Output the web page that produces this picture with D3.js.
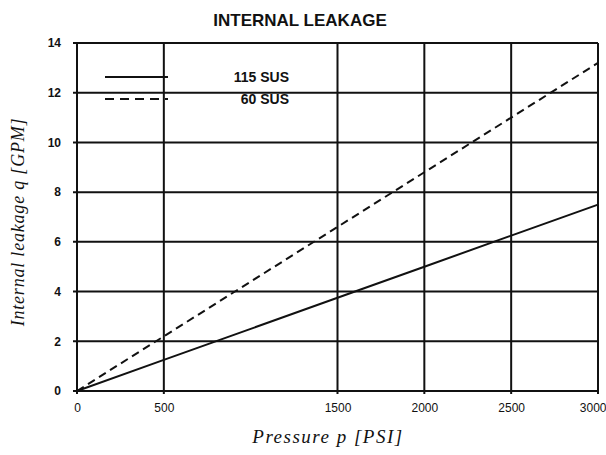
<!DOCTYPE html>
<html><head><meta charset="utf-8">
<script src="https://cdn.jsdelivr.net/npm/d3@7/dist/d3.min.js"></script>
<style>body{margin:0;background:#fff}svg{display:block}</style>
</head><body>
<svg id="c" width="606" height="455"></svg>
<script>
// ---- data ----
const pressure = [0, 500, 1000, 1500, 2000, 2500, 3000];
const leak115 = [0, 1.25, 2.5, 3.75, 5.0, 6.25, 7.5];
const leak60  = [0, 2.2, 4.4, 6.6, 8.8, 11.0, 13.2];
const xTicks = [0, 500, 1500, 2000, 2500, 3000];
const xTickLabels = ["0", "500", "1500", "2000", "2500", "3000"];
const yTicks = [0, 2, 4, 6, 8, 10, 12, 14];
const seriesNames = ["115 SUS", "60 SUS"];
const title = "INTERNAL LEAKAGE";
const xTitle = "Pressure p [PSI]";
const yTitle = "Internal leakage q [GPM]";

const svg = d3.select("#c");
const L = 77, R = 598, T = 43, B = 391;
const x = d3.scaleLinear().domain([0, 3000]).range([L, R]);
const y = d3.scaleLinear().domain([0, 14]).range([B, T]);
const ink = "#111";

// grid
const g = svg.append("g");
g.selectAll("line.h").data(yTicks).enter().append("line")
  .attr("x1", L - 4).attr("x2", R).attr("y1", d => y(d)).attr("y2", d => y(d))
  .attr("stroke", ink).attr("stroke-width", 2);
g.selectAll("line.v").data(xTicks).enter().append("line")
  .attr("x1", d => x(d)).attr("x2", d => x(d)).attr("y1", T).attr("y2", B + 3)
  .attr("stroke", ink).attr("stroke-width", 2);

// axes (labels only)
const xAxis = d3.axisBottom(x).tickValues(xTicks).tickSize(0).tickPadding(12)
  .tickFormat((d, i) => xTickLabels[i]);
const xa = svg.append("g").attr("transform", `translate(0,${B})`).call(xAxis);
xa.select(".domain").remove();
xa.selectAll("text").attr("font-family", "Liberation Sans, Arial, sans-serif").attr("font-size", 12).attr("fill", ink)
  .attr("text-anchor", (d, i) => i === xTicks.length - 1 ? "end" : "middle")
  .attr("dx", (d, i) => i === xTicks.length - 1 ? 8 : 0);

const yAxis = d3.axisLeft(y).tickValues(yTicks).tickSize(0).tickPadding(16);
const ya = svg.append("g").attr("transform", `translate(${L},0)`).call(yAxis);
ya.select(".domain").remove();
ya.selectAll("text").attr("font-family", "Liberation Sans, Arial, sans-serif").attr("font-size", 12).attr("font-weight", "bold").attr("fill", ink);

// data lines
const line = d3.line().x((d, i) => x(pressure[i])).y(d => y(d));
svg.append("path").datum(leak115).attr("d", line).attr("fill", "none")
  .attr("stroke", ink).attr("stroke-width", 2);
svg.append("path").datum(leak60).attr("d", line).attr("fill", "none")
  .attr("stroke", ink).attr("stroke-width", 2).attr("stroke-dasharray", "8,5");

// legend
const leg = svg.append("g");
const rows = [{name: seriesNames[0], dash: null, y: 77}, {name: seriesNames[1], dash: "9,6", y: 99}];
rows.forEach(r => {
  leg.append("line").attr("x1", 105).attr("x2", 168).attr("y1", r.y).attr("y2", r.y)
    .attr("stroke", ink).attr("stroke-width", 2).attr("stroke-dasharray", r.dash);
  leg.append("text").attr("x", 289).attr("y", r.y + 5).attr("text-anchor", "end")
    .attr("font-family", "Liberation Sans, Arial, sans-serif").attr("font-size", 14).attr("font-weight", "bold")
    .attr("fill", ink).text(r.name);
});

// titles
svg.append("text").attr("x", 300).attr("y", 26).attr("text-anchor", "middle")
  .attr("font-family", "Liberation Sans, Arial, sans-serif").attr("font-size", 17).attr("font-weight", "bold")
  .attr("fill", ink).text(title);
svg.append("text").attr("x", 328).attr("y", 443).attr("text-anchor", "middle")
  .attr("font-family", "Liberation Serif, Times New Roman, serif").attr("font-style", "italic").attr("font-size", 19)
  .attr("letter-spacing", 1.5).attr("fill", ink).text(xTitle);
svg.append("text").attr("transform", "translate(24,222) rotate(-90)").attr("text-anchor", "middle")
  .attr("font-family", "Liberation Serif, Times New Roman, serif").attr("font-style", "italic").attr("font-size", 18)
  .attr("letter-spacing", 0.8).attr("fill", ink).text(yTitle);
</script>
</body></html>
